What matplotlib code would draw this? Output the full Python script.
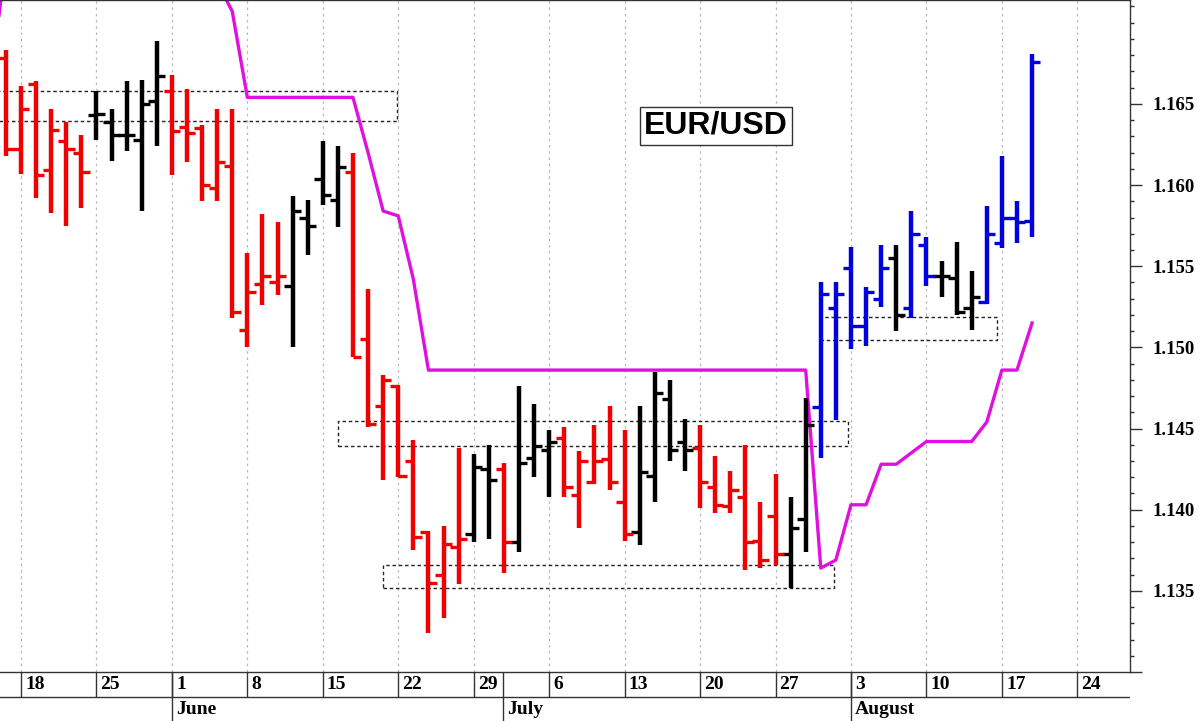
import matplotlib
matplotlib.use("Agg")
import matplotlib.pyplot as plt
from matplotlib.patches import Rectangle
from matplotlib.ticker import MultipleLocator, FixedLocator
import numpy as np

# daily EUR/USD bars, trading days only, day 0 = Monday 18 May
day = np.arange(-1, 68)
opens = [1.1678, 1.1622, 1.1662, 1.1609, 1.1627, 1.1620, 1.1643, 1.1639, 1.1631, 1.1628,
         1.1652, 1.1658, 1.1636, 1.1635, 1.1598, 1.1612, 1.1511, 1.1539, 1.1540, 1.1538,
         1.1580, 1.1604, 1.1591, 1.1608, 1.1505, 1.1464, 1.1476, 1.1430, 1.1386, 1.1360,
         1.1377, 1.1385, 1.1425, 1.1425, 1.1380, 1.1432, 1.1437, 1.1444, 1.1409, 1.1417,
         1.1431, 1.1405, 1.1386, 1.1421, 1.1468, 1.1442, 1.1438, 1.1414, 1.1402, 1.1408,
         1.1381, 1.1396, 1.1373, 1.1394, 1.1463, 1.1524, 1.1549, 1.1513, 1.1530, 1.1555,
         1.1524, 1.1563, 1.1544, 1.1543, 1.1524, 1.1528, 1.1564, 1.1580, 1.1578]
highs = [1.1683, 1.1661, 1.1664, 1.1647, 1.1639, 1.1631, 1.1658, 1.1647, 1.1664, 1.1665,
         1.1689, 1.1668, 1.1659, 1.1637, 1.1647, 1.1647, 1.1558, 1.1582, 1.1577, 1.1593,
         1.1591, 1.1627, 1.1624, 1.1620, 1.1536, 1.1483, 1.1477, 1.1443, 1.1387, 1.1390,
         1.1438, 1.1434, 1.1440, 1.1429, 1.1476, 1.1465, 1.1449, 1.1451, 1.1436, 1.1452,
         1.1464, 1.1449, 1.1464, 1.1485, 1.1480, 1.1456, 1.1452, 1.1433, 1.1424, 1.1440,
         1.1405, 1.1422, 1.1408, 1.1469, 1.1540, 1.1540, 1.1562, 1.1537, 1.1563, 1.1563,
         1.1584, 1.1568, 1.1553, 1.1565, 1.1547, 1.1587, 1.1618, 1.1590, 1.1681]
lows = [1.1618, 1.1607, 1.1592, 1.1583, 1.1575, 1.1586, 1.1628, 1.1615, 1.1621, 1.1584,
        1.1624, 1.1606, 1.1614, 1.1590, 1.1590, 1.1518, 1.1500, 1.1526, 1.1532, 1.1500,
        1.1557, 1.1588, 1.1574, 1.1494, 1.1451, 1.1418, 1.1420, 1.1375, 1.1324, 1.1333,
        1.1354, 1.1380, 1.1382, 1.1361, 1.1374, 1.1420, 1.1408, 1.1408, 1.1389, 1.1416,
        1.1412, 1.1381, 1.1378, 1.1405, 1.1430, 1.1424, 1.1401, 1.1398, 1.1398, 1.1363,
        1.1364, 1.1366, 1.1352, 1.1374, 1.1432, 1.1455, 1.1499, 1.1501, 1.1525, 1.1510,
        1.1518, 1.1538, 1.1531, 1.1520, 1.1511, 1.1527, 1.1561, 1.1564, 1.1568]
closes = [1.1622, 1.1647, 1.1606, 1.1634, 1.1622, 1.1608, 1.1644, 1.1631, 1.1631, 1.1650,
          1.1667, 1.1633, 1.1632, 1.1600, 1.1614, 1.1522, 1.1534, 1.1544, 1.1544, 1.1584,
          1.1575, 1.1594, 1.1611, 1.1494, 1.1453, 1.1480, 1.1421, 1.1383, 1.1355, 1.1379,
          1.1382, 1.1426, 1.1418, 1.1380, 1.1429, 1.1439, 1.1442, 1.1414, 1.1430, 1.1430,
          1.1417, 1.1385, 1.1423, 1.1472, 1.1437, 1.1437, 1.1417, 1.1403, 1.1412, 1.1380,
          1.1369, 1.1373, 1.1389, 1.1452, 1.1533, 1.1533, 1.1513, 1.1534, 1.1549, 1.1520,
          1.1570, 1.1544, 1.1544, 1.1522, 1.1531, 1.1570, 1.1580, 1.1577, 1.1676]
# r = red, k = black, b = blue
bar_kind = list("rrrrrr" "kkkkk" "rrrrrrrr" "kkkk" "rrrrrrrr" "kk" "r" "kkk"
                "rrrrr" "kkkk" "rrrrrr" "kk" "bbbbb" "k" "bb" "kkk" "bbbb")

# magenta trailing stop (values above 1.1714 run off the top of the chart)
stop_day = np.arange(-2, 68)
stop = [1.1662, 1.1740, 1.1740, 1.1740, 1.1740, 1.1740, 1.1740, 1.1740, 1.1740, 1.1740,
        1.1740, 1.1740, 1.1740, 1.1740, 1.1740, 1.1725, 1.1707, 1.1654, 1.1654, 1.1654,
        1.1654, 1.1654, 1.1654, 1.1654, 1.1654, 1.1620, 1.1584, 1.1581, 1.1542, 1.1486,
        1.1486, 1.1486, 1.1486, 1.1486, 1.1486, 1.1486, 1.1486, 1.1486, 1.1486, 1.1486,
        1.1486, 1.1486, 1.1486, 1.1486, 1.1486, 1.1486, 1.1486, 1.1486, 1.1486, 1.1486,
        1.1486, 1.1486, 1.1486, 1.1486, 1.1486, 1.1364, 1.1369, 1.1403, 1.1403, 1.1428,
        1.1428, 1.1435, 1.1442, 1.1442, 1.1442, 1.1442, 1.1454, 1.1486, 1.1486, 1.1515]

# dotted congestion boxes
box_start = [-1.6, 21.0, 24.0, 52.95]
box_end = [24.9, 54.8, 53.9, 64.7]
box_low = [1.16397, 1.14391, 1.13517, 1.15043]
box_high = [1.16582, 1.14545, 1.13662, 1.15184]

# week axis
week_day = [0, 5, 10, 15, 20, 25, 30, 35, 40, 45, 50, 55, 60, 65, 70]
week_lbl = ["18", "25", "1", "8", "15", "22", "29", "6", "13", "20", "27", "3", "10", "17", "24"]
month_day = [10, 31.95, 55]
month_lbl = ["June", "July", "August"]

palette = {"r": "#f00000", "k": "#000000", "b": "#0000e0"}
cols = [palette[c] for c in bar_kind]
xlo, xhi = -1.39, 73.49
serif = "Liberation Serif"

fig = plt.figure(figsize=(12, 7.21), dpi=100)
ax = fig.add_axes([0, 49 / 721, 1130 / 1200, 672 / 721])
axd = fig.add_axes([0, 0, 1130 / 1200, 49 / 721])

for d in week_day:
    ax.axvline(d, color="#b8b8b8", lw=0.9, ls=(0, (2, 3)), zorder=0)

for x0, x1, lo, hi in zip(box_start, box_end, box_low, box_high):
    ax.add_patch(Rectangle((x0, lo), x1 - x0, hi - lo, fill=False, ec="#222222",
                           lw=1.0, ls=(0, (2.5, 2)), zorder=1))

ax.plot(stop_day, stop, color="#e010e0", lw=2.4, zorder=2)

ax.vlines(day, lows, highs, colors=cols, lw=3.2, capstyle="butt", zorder=3)
ax.hlines(opens, day - 0.55, day, colors=cols, lw=2.4, zorder=3)
ax.hlines(closes, day, day + 0.55, colors=cols, lw=2.4, zorder=3)

ax.text(0.6336, 0.8125, "EUR/USD", transform=ax.transAxes, ha="center", va="center",
        fontsize=23, fontweight="bold", family="Liberation Sans", zorder=4,
        bbox=dict(boxstyle="square,pad=0.12", fc="white", ec="#333333", lw=1.0))

ax.set_xlim(xlo, xhi)
ax.set_ylim(1.130, 1.1714)
ax.xaxis.set_visible(False)
ax.yaxis.tick_right()
ax.yaxis.set_major_locator(FixedLocator([1.130, 1.135, 1.140, 1.145, 1.150, 1.155, 1.160, 1.165]))
ax.yaxis.set_minor_locator(MultipleLocator(0.001))
ax.set_yticklabels(["", "1.135", "1.140", "1.145", "1.150", "1.155", "1.160", "1.165"])
ax.tick_params(axis="y", which="major", length=8.5, width=1.0, pad=8, color="#333333")
ax.tick_params(axis="y", which="minor", length=3, width=1.0, color="#333333")
for t in ax.get_yticklabels():
    t.set_fontfamily(serif)
    t.set_fontweight("bold")
    t.set_fontsize(13.5)
ax.spines["left"].set_visible(False)
for s in ["right", "top", "bottom"]:
    ax.spines[s].set_color("#333333")
    ax.spines[s].set_linewidth(1.0)

# date strip under the chart: day row on top, month row below
axd.set_xlim(xlo, xhi)
axd.set_ylim(0, 2)
axd.axis("off")
axd.axhline(1, color="#333333", lw=1.0)
axd.vlines(week_day, 1, 2, color="#333333", lw=1.0)
axd.vlines(month_day, 0, 2, color="#333333", lw=1.0)
for d, lbl in zip(week_day, week_lbl):
    axd.text(d + 0.27, 1.48, lbl, ha="left", va="center", fontsize=14,
             fontweight="bold", family=serif)
for d, lbl in zip(month_day, month_lbl):
    axd.text(d + 0.27, 0.45, lbl, ha="left", va="center", fontsize=14,
             fontweight="bold", family=serif)

fig.savefig("out.png", dpi=100)
